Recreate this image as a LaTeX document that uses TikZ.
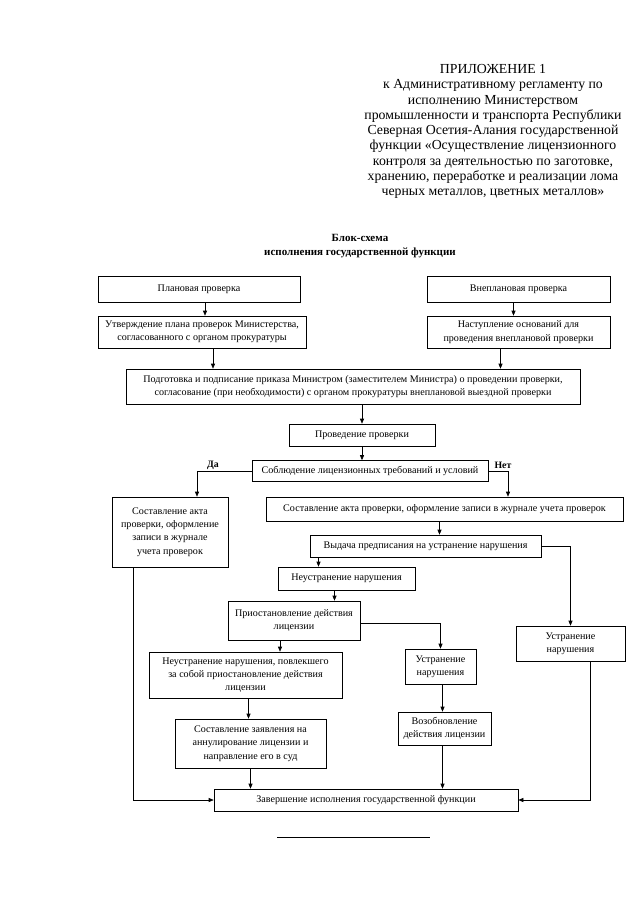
\documentclass[tikz,border=0pt]{standalone}
\usepackage{fontspec}
\setmainfont{Liberation Serif}
\usetikzlibrary{arrows.meta,calc}
\begin{document}
\begin{tikzpicture}[x=1pt,y=-1pt,
  box/.style={draw, line width=0.6pt, align=center, inner sep=1pt,
    font=\fontsize{10.1}{13.3}\selectfont, anchor=center},
  arr/.style={draw, line width=0.6pt, -{Triangle[length=5pt,width=4pt]}},
  ln/.style={draw, line width=0.6pt},
  lbl/.style={font=\bfseries\fontsize{9.8}{11}\selectfont, inner sep=0pt}]
\useasboundingbox (0,0) rectangle (640,905);
\fill[white] (0,0) rectangle (640,905);
% header
\node[align=center, font=\fontsize{13.8}{15.25}\selectfont, anchor=north] (hdr) at (493,61) {ПРИЛОЖЕНИЕ 1\\
к Административному регламенту по\\
исполнению Министерством\\
промышленности и транспорта Республики\\
Северная Осетия-Алания государственной\\
функции «Осуществление лицензионного\\
контроля за деятельностью по заготовке,\\
хранению, переработке и реализации лома\\
черных металлов, цветных металлов»};
\node[align=center, font=\bfseries\fontsize{11}{13.5}\selectfont, anchor=north] (ttl) at (360,231) {Блок-схема\\ исполнения государственной функции};
% boxes
\node[box, minimum width=202, minimum height=26] (plan) at (199,289) {Плановая проверка};
\node[box, minimum width=183, minimum height=26] (unplan) at (518.5,289) {Внеплановая проверка};
\node[box, minimum width=208, minimum height=32] (utv) at (202,332) {Утверждение плана проверок Министерства,\\ согласованного с органом прокуратуры};
\node[box, minimum width=183, minimum height=32] (nast) at (518.5,332) {Наступление оснований для\\ проведения внеплановой проверки};
\node[box, minimum width=454, minimum height=35] (podg) at (353,386.5) {Подготовка и подписание приказа Министром (заместителем Министра) о проведении проверки,\\ согласование (при необходимости) с органом прокуратуры внеплановой выездной проверки};
\node[box, minimum width=146, minimum height=22] (prov) at (362,435) {Проведение проверки};
\node[box, minimum width=236, minimum height=21] (sobl) at (370,471) {Соблюдение лицензионных требований и условий};
\node[box, minimum width=116, minimum height=70] (sostL) at (170,532) {Составление акта\\ проверки, оформление\\ записи в журнале\\ учета проверок};
\node[box, minimum width=357, minimum height=24] (sostR) at (444.5,509) {Составление акта проверки, оформление записи в журнале учета проверок};
\node[box, minimum width=231, minimum height=22] (vyd) at (425.5,546) {Выдача предписания на устранение нарушения};
\node[box, minimum width=137, minimum height=23] (neustr) at (346.5,578.5) {Неустранение нарушения};
\node[box, minimum width=132, minimum height=39] (prios) at (294,620.5) {Приостановление действия\\ лицензии};
\node[box, minimum width=109, minimum height=35] (ustrR) at (570.5,643.5) {Устранение\\ нарушения};
\node[box, minimum width=193, minimum height=46] (neustrB) at (245.5,675) {Неустранение нарушения, повлекшего\\ за собой приостановление действия\\ лицензии};
\node[box, minimum width=71, minimum height=35] (ustrM) at (440.5,666.5) {Устранение\\ нарушения};
\node[box, minimum width=151, minimum height=49] (zayav) at (250.5,743.5) {Составление заявления на\\ аннулирование лицензии и\\ направление его в суд};
\node[box, minimum width=93, minimum height=33] (vozob) at (444.5,728.5) {Возобновление\\ действия лицензии};
\node[box, minimum width=304, minimum height=22] (zav) at (366,800) {Завершение исполнения государственной функции};
% connectors
\draw[arr] ([xshift=6]plan.south) -- ([xshift=6]plan.south |- utv.north);
\draw[arr] ([xshift=-5]unplan.south) -- ([xshift=-5]unplan.south |- nast.north);
\draw[arr] ([xshift=11]utv.south) -- ([xshift=11]utv.south |- podg.north);
\draw[arr] ([xshift=-18]nast.south) -- ([xshift=-18]nast.south |- podg.north);
\draw[arr] (prov.north |- podg.south) -- (prov.north);
\draw[arr] (prov.south) -- (prov.south |- sobl.north);
\coordinate (daC) at ([xshift=27]sostL.north);
\coordinate (netC) at ([xshift=63.5]sostR.north);
\draw[arr] (sobl.west) -| (daC);
\draw[arr] (sobl.east) -| (netC);
\node[lbl] (da) at (213,465) {Да};
\node[lbl] (net) at (503,465) {Нет};
\draw[arr] ([xshift=-5]sostR.south) -- ([xshift=-5]sostR.south |- vyd.north);
\draw[arr] ([xshift=-107]vyd.south) -- ([xshift=-107]vyd.south |- neustr.north);
\draw[arr] ([xshift=-12]neustr.south) -- ([xshift=-12]neustr.south |- prios.north);
\draw[arr] (vyd.east) -| (ustrR.north);
\draw[arr] ([yshift=-3]prios.east) -| (ustrM.north);
\draw[arr] ([xshift=-14]prios.south) -- ([xshift=-14]prios.south |- neustrB.north);
\draw[arr] ([xshift=3]neustrB.south) -- ([xshift=3]neustrB.south |- zayav.north);
\draw[arr] ([xshift=2]ustrM.south) -- ([xshift=2]ustrM.south |- vozob.north);
\draw[arr] (zayav.south) -- (zayav.south |- zav.north);
\draw[arr] ([xshift=-2]vozob.south) -- ([xshift=-2]vozob.south |- zav.north);
\draw[arr] ([xshift=-37]sostL.south) |- (zav.west);
\draw[arr] ([xshift=20]ustrR.south) |- (zav.east);
% footer rule
\coordinate (r1) at (277,837);
\coordinate (r2) at (430,837);
\draw[ln] (r1) -- (r2);
\end{tikzpicture}
\end{document}
